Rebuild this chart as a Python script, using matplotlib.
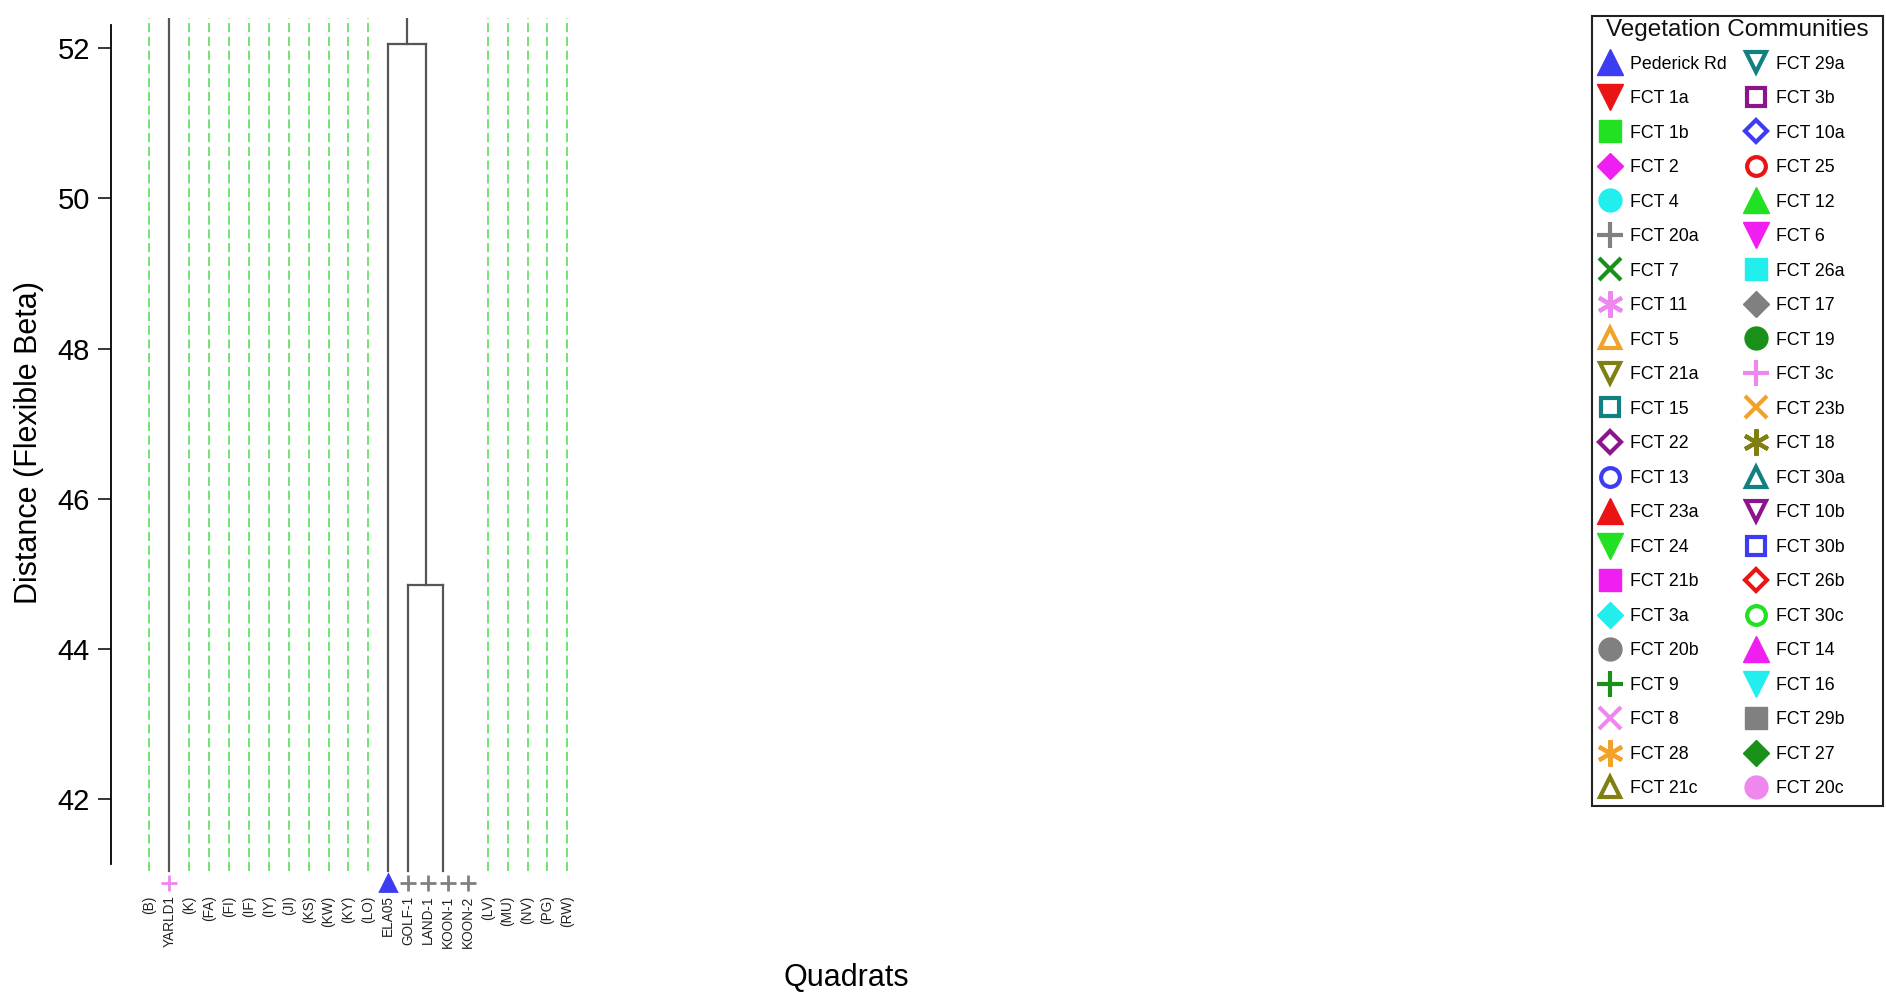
import numpy as np
import matplotlib
matplotlib.use('Agg')
import matplotlib.pyplot as plt
from matplotlib.lines import Line2D
from matplotlib.patches import Rectangle

plt.rcParams['font.family'] = 'Liberation Sans'

# quadrats in dendrogram order; names in brackets are groups with no sites here
quadrats = ['(B)', 'YARLD1', '(K)', '(FA)', '(FI)', '(IF)', '(IY)', '(JI)', '(KS)',
            '(KW)', '(KY)', '(LO)', 'ELA05', 'GOLF-1', 'LAND-1', 'KOON-1', 'KOON-2',
            '(LV)', '(MU)', '(NV)', '(PG)', '(RW)']

# community assigned to each sampled quadrat
quadrat_comm = {'YARLD1': 'FCT 3c', 'ELA05': 'Pederick Rd', 'GOLF-1': 'FCT 20a',
                'LAND-1': 'FCT 20a', 'KOON-1': 'FCT 20a', 'KOON-2': 'FCT 20a'}

# fusions as (left, right, distance); None = fused below the plotted range
tree = ('ELA05', ('GOLF-1', ('LAND-1', ('KOON-1', 'KOON-2', None), None), 44.85), 52.05)

communities = ['Pederick Rd', 'FCT 1a', 'FCT 1b', 'FCT 2', 'FCT 4', 'FCT 20a', 'FCT 7',
               'FCT 11', 'FCT 5', 'FCT 21a', 'FCT 15', 'FCT 22', 'FCT 13', 'FCT 23a',
               'FCT 24', 'FCT 21b', 'FCT 3a', 'FCT 20b', 'FCT 9', 'FCT 8', 'FCT 28',
               'FCT 21c', 'FCT 29a', 'FCT 3b', 'FCT 10a', 'FCT 25', 'FCT 12', 'FCT 6',
               'FCT 26a', 'FCT 17', 'FCT 19', 'FCT 3c', 'FCT 23b', 'FCT 18', 'FCT 30a',
               'FCT 10b', 'FCT 30b', 'FCT 26b', 'FCT 30c', 'FCT 14', 'FCT 16', 'FCT 29b',
               'FCT 27', 'FCT 20c']

# symbol cycle: (marker, filled, size)
shapes = [('^', True, 18.5), ('v', True, 18.5), ('s', True, 16), ('D', True, 13.5),
          ('o', True, 16.5), ('+', True, 19), ('x', True, 16), ((6, 2, 0), True, 19),
          ('^', False, 15), ('v', False, 15), ('s', False, 13.5), ('D', False, 11.5),
          ('o', False, 13.5)]
colours = ['#3c3cf2', '#ea1414', '#22e022', '#f01ef0', '#22eeee', '#808080',
           '#18901a', '#ee88ee', '#f2a228', '#808012', '#128080', '#8c148c']


def symbol(name):
    i = communities.index(name)
    m, filled, ms = shapes[i % len(shapes)]
    c = colours[i % len(colours)]
    return m, filled, ms, c


base = 41.05      # where the leaf stems start
mark_y = 40.89    # leaf symbols
lab_y = 40.72     # top of leaf labels
top = 53.0        # stems that continue past the plot top

dend_c = '#555555'
dend_lw = 1.6

W, H = 1886.0, 992.0
fig = plt.figure(figsize=(18.86, 9.92), dpi=100)
ax = fig.add_axes([110.7 / W, 0.1072, (1580 - 110.7) / W, 0.8745])

xpos = {q: i for i, q in enumerate(quadrats)}


def draw(node):
    # returns (x, top of the node's stem)
    if isinstance(node, str):
        return xpos[node], base
    left, right, h = node
    xl, yl = draw(left)
    xr, yr = draw(right)
    xm = 0.5 * (xl + xr)
    if h is None:
        return xm, base
    ax.plot([xl, xl], [yl, h], color=dend_c, lw=dend_lw)
    ax.plot([xr, xr], [yr, h], color=dend_c, lw=dend_lw)
    ax.plot([xl, xr], [h, h], color=dend_c, lw=dend_lw)
    return xm, h


xr, hr = draw(tree)
ax.plot([xr, xr], [hr, top], color=dend_c, lw=dend_lw)
ax.plot([xpos['YARLD1']] * 2, [base, top], color=dend_c, lw=dend_lw)

for q in quadrats:
    x = xpos[q]
    if q.startswith('('):
        ax.plot([x, x], [base, top], color='#4ade4a', lw=1.1, dashes=(6, 3))
    else:
        m, filled, ms, c = symbol(quadrat_comm[q])
        ax.plot(x, mark_y, marker=m, ms=11.5, color=c, mec=c,
                mfc=c if filled else 'white', mew=2, ls='none', clip_on=False)
    ax.text(x, lab_y, q, rotation=90, ha='center', va='top', fontsize=9.8,
            color='#222222')

ax.set_xlim(-1.95, 71.9)
ax.set_ylim(40.85, 52.40)
ax.set_yticks([42, 44, 46, 48, 50, 52])
ax.set_xticks([])
ax.tick_params(axis='y', labelsize=21, length=9.4, width=1.1, pad=5.5)
for s in ['top', 'right', 'bottom']:
    ax.spines[s].set_visible(False)
ax.spines['left'].set_bounds(41.14, 52.31)
ax.spines['left'].set_linewidth(1.3)

fig.text(29.5 / W, 1 - 442 / H, 'Distance (Flexible Beta)', rotation=90,
         ha='center', va='center', fontsize=22)
fig.text(846.5 / W, 1 - 978 / H, 'Quadrats', ha='center', va='center',
         fontsize=22)

# legend: frame and title drawn separately, entries in two columns
handles = []
for name in communities:
    m, filled, ms, c = symbol(name)
    thick = (not filled) or m in ['+', 'x'] or isinstance(m, tuple)
    handles.append(Line2D([], [], ls='none', marker=m, ms=ms, color=c, mec=c,
                          mfc=c if filled else 'white', mew=3 if thick else 1))

fig.patches.append(Rectangle((1591.7 / W, 1 - 806 / H), (1882.7 - 1591.7) / W,
                             (806 - 16) / H, transform=fig.transFigure,
                             fill=False, edgecolor='#222222', lw=1.5))
fig.text(1737.5 / W, 1 - 36.2 / H, 'Vegetation Communities', ha='center',
         va='baseline', fontsize=17.5, color='#111111')

leg = fig.legend(handles, communities, ncol=2, loc='upper left',
                 bbox_to_anchor=(1599 / W, 1 - 55.6 / H), borderaxespad=0,
                 fontsize=12.8, frameon=False, borderpad=0,
                 handlelength=1.2, handletextpad=0.54, columnspacing=1.045,
                 labelspacing=0.985)

fig.savefig('out.png', dpi=100)
